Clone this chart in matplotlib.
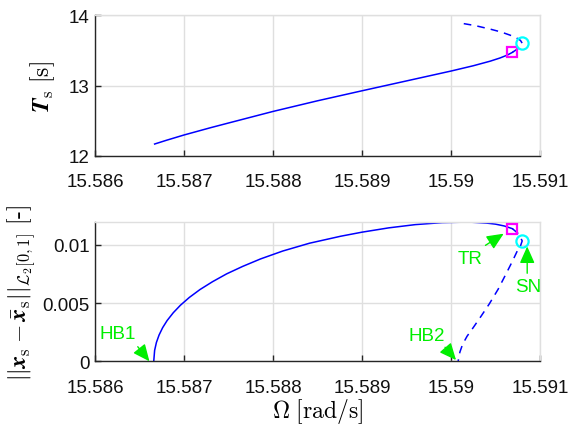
import matplotlib
matplotlib.use("Agg")
import matplotlib.pyplot as plt
import matplotlib.transforms as mtransforms

plt.rcParams['font.family'] = ['Liberation Sans', 'DejaVu Sans']
plt.rcParams['mathtext.fontset'] = 'cm'

# ---- data -------------------------------------------------------------
# stable periodic branch: period T_s vs Omega
omega_T_stable = [15.58667, 15.58680, 15.58700, 15.58730, 15.58750,
                  15.58800, 15.58850, 15.58900, 15.58950, 15.59000,
                  15.59025, 15.59044, 15.59055, 15.59063, 15.59069]
T_stable = [12.17, 12.222, 12.298, 12.402, 12.468,
            12.632, 12.783, 12.925, 13.065, 13.205,
            13.28, 13.345, 13.39, 13.43, 13.47]

# unstable periodic branch: period T_s vs Omega
omega_T_unstable = [15.59069, 15.59076, 15.59080, 15.59078, 15.59073,
                    15.59066, 15.59056, 15.59044, 15.59027, 15.59010]
T_unstable = [13.47, 13.53, 13.60, 13.64, 13.68,
              13.716, 13.76, 13.80, 13.85, 13.887]

# stable periodic branch: L2 norm of deviation vs Omega
omega_A_stable = [15.58666, 15.58667, 15.58669, 15.58672, 15.58676,
                  15.58681, 15.58688, 15.58696, 15.58706, 15.58718,
                  15.58732, 15.58748, 15.58766, 15.58786, 15.58811,
                  15.58841, 15.58876, 15.58900, 15.58930, 15.58960,
                  15.58990, 15.59020, 15.59040, 15.59050, 15.59060,
                  15.59069]
A_stable = [0.0, 0.00094, 0.00162, 0.00226, 0.00289,
            0.0035, 0.00418, 0.00482, 0.00549, 0.00617,
            0.00684, 0.00752, 0.00816, 0.0088, 0.00948,
            0.01015, 0.01075, 0.0111, 0.01147, 0.01175,
            0.01192, 0.01197, 0.01188, 0.01179, 0.01163,
            0.0114]

# unstable periodic branch: L2 norm of deviation vs Omega
omega_A_unstable = [15.59069, 15.59076, 15.59080, 15.59078, 15.59075,
                    15.59069, 15.59062, 15.59053, 15.59043, 15.59034,
                    15.59025, 15.59018, 15.59013, 15.59010, 15.59008]
A_unstable = [0.0114, 0.01095, 0.01035, 0.0099, 0.00957,
              0.0086, 0.00754, 0.0062, 0.00493, 0.0039,
              0.0029, 0.00215, 0.00145, 0.0008, 0.0]

# bifurcation points
omega_HB1, omega_HB2 = 15.58666, 15.59008
omega_TR, T_TR, A_TR = 15.59069, 13.47, 0.0114
omega_SN, T_SN, A_SN = 15.59080, 13.60, 0.01035

x_ticks = [15.586, 15.587, 15.588, 15.589, 15.590, 15.591]
x_ticklabels = ['15.586', '15.587', '15.588', '15.589', '15.59', '15.591']
T_ticks = [12, 13, 14]
T_ticklabels = ['12', '13', '14']
A_ticks = [0, 0.005, 0.01]
A_ticklabels = ['0', '0.005', '0.01']

# ---- styling ----------------------------------------------------------
BLUE = '#0000ff'
GREEN = '#00ee00'
MAGENTA = '#ff00ff'
CYAN = '#00ffff'
GRIDC = '#dfdfdf'
AXC = '#262626'

fig = plt.figure(figsize=(5.81, 4.27), dpi=100)
ax1 = fig.add_axes([95 / 581, 1 - 157 / 427, 445 / 581, 141 / 427])
ax2 = fig.add_axes([95 / 581, 1 - 362.3 / 427, 445 / 581, 139.6 / 427])


def style(ax, yticks, yticklabels):
    ax.set_xlim(x_ticks[0], x_ticks[-1])
    ax.set_xticks(x_ticks)
    ax.set_xticklabels(x_ticklabels)
    ax.set_yticks(yticks)
    ax.set_yticklabels(yticklabels)
    ax.grid(True, color=GRIDC, lw=1.0)
    ax.set_axisbelow(True)
    for s in ('left', 'bottom'):
        ax.spines[s].set_color(AXC)
        ax.spines[s].set_linewidth(1.0)
    for s in ('top', 'right'):
        ax.spines[s].set_color(GRIDC)
        ax.spines[s].set_linewidth(1.0)
    ax.tick_params(direction='in', length=4, width=1.0, color=AXC,
                   labelsize=13.5, labelcolor='#111111', top=False, right=False)
    ax.tick_params(axis='x', pad=12.5)
    ax.tick_params(axis='y', pad=4)


def markers(ax, yTR, ySN):
    ax.plot([omega_TR], [yTR], 's', ms=7.2, mfc='none', mec=MAGENTA, mew=1.6, zorder=5)
    ax.plot([omega_SN], [ySN], 'o', ms=8.8, mfc='none', mec=CYAN, mew=1.6, zorder=5)


# top: period
ax1.plot(omega_T_stable, T_stable, '-', color=BLUE, lw=1.1)
ax1.plot(omega_T_unstable, T_unstable, '--', color=BLUE, lw=1.1, dashes=(5, 4))
markers(ax1, T_TR, T_SN)
ax1.set_ylim(12, 14)
style(ax1, T_ticks, T_ticklabels)
ax1.set_ylabel(r'$\boldsymbol{T}_{\mathrm{s}}\ [\mathrm{s}]$', fontsize=17)
ax1.yaxis.set_label_coords(-0.085, 0.5)

# bottom: amplitude
ax2.plot(omega_A_stable, A_stable, '-', color=BLUE, lw=1.1)
ax2.plot(omega_A_unstable, A_unstable, '--', color=BLUE, lw=1.1, dashes=(5, 4))
markers(ax2, A_TR, A_SN)
ax2.set_ylim(0, 0.012)
style(ax2, A_ticks, A_ticklabels)
ax2.set_ylabel(r'$||\boldsymbol{x}_{\mathrm{s}}-\bar{\boldsymbol{x}}_{\mathrm{s}}||_{\mathcal{L}_2[0,1]}\ [\text{-}]$',
               fontsize=17)
ax2.yaxis.set_label_coords(-0.128, 0.5)
ax2.set_xlabel(r'$\Omega\ [\mathrm{rad/s}]$', fontsize=17)
ax2.xaxis.set_label_coords(0.5, -0.25)


def label_point(ax, name, x, y, text_off, tail_off, tip_off):
    tr_text = mtransforms.offset_copy(ax.transData, fig, x=text_off[0], y=text_off[1], units='points')
    tr_tail = mtransforms.offset_copy(ax.transData, fig, x=tail_off[0], y=tail_off[1], units='points')
    tr_tip = mtransforms.offset_copy(ax.transData, fig, x=tip_off[0], y=tip_off[1], units='points')
    ax.text(x, y, name, transform=tr_text, ha='center', va='center',
            color=GREEN, fontsize=13.5, clip_on=False)
    ax.annotate('', xy=(x, y), xycoords=tr_tip, xytext=(x, y), textcoords=tr_tail,
                arrowprops=dict(arrowstyle='-|>,head_length=0.85,head_width=0.38',
                                color=GREEN, lw=1.0, shrinkA=0, shrinkB=0,
                                mutation_scale=12),
                annotation_clip=False)


label_point(ax2, 'HB1', omega_HB1, 0.0, (-25.9, 19.7), (-11.5, 10.5), (-3.1, 0.0))
label_point(ax2, 'HB2', omega_HB2, 0.0, (-22.6, 18.9), (-9.4, 10.1), (-1.5, 0.9))
label_point(ax2, 'TR', omega_TR, A_TR, (-30.2, -21.6), (-19.4, -12.0), (-6.3, -3.6))
label_point(ax2, 'SN', omega_SN, A_SN, (4.3, -32.8), (3.6, -23.3), (3.6, -4.0))

fig.savefig('out.png', dpi=100)
